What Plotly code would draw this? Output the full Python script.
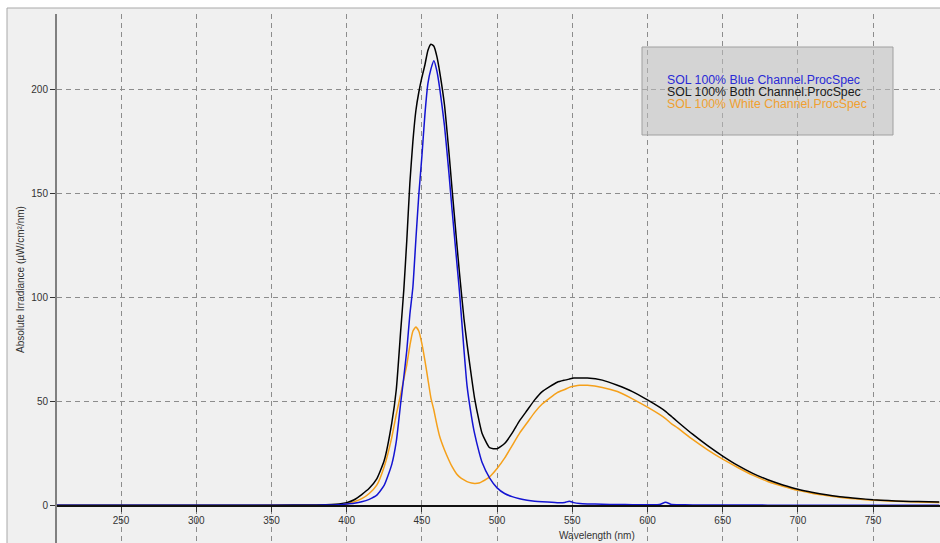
import plotly.graph_objects as go

# Wavelength grid (nm) shared by the three spectra
wavelength = [207, 250, 300, 350, 380, 390, 395, 400, 405, 410, 415, 420, 425, 430,
              433, 436, 438, 440, 442, 444, 446, 448, 450, 452, 454, 456, 458, 460,
              462, 465, 468, 470, 473, 475, 478, 480, 483, 485, 488, 490, 495, 500,
              505, 510, 515, 520, 525, 530, 540, 545, 548, 551, 555, 560, 570, 580,
              590, 600, 608, 612, 616, 620, 630, 640, 650, 660, 670, 680, 690, 700,
              710, 720, 730, 740, 750, 760, 770, 780, 794]

# Absolute irradiance (uW/cm^2/nm)
both_channel = [0.3, 0.3, 0.3, 0.4, 0.5, 0.7, 1.0, 1.6, 3.0, 5.5, 8.5, 13, 22, 40,
                56, 85, 104, 128, 155, 175, 190, 199, 206, 212, 219, 222, 221, 216,
                208, 193, 170, 153, 128, 112, 90, 78, 62, 52, 41, 35, 28, 27.5,
                30, 35, 41, 46, 51, 55, 59.5, 60.5, 61, 61.5, 61.5, 61.5, 60.5, 58,
                55, 51, 47.5, 45.5, 43, 40.5, 34.5, 29, 24, 19.5, 15.7, 12.6, 10.1, 8.0,
                6.5, 5.3, 4.3, 3.6, 3.0, 2.6, 2.3, 2.1, 1.9]

blue_channel = [0.3, 0.3, 0.4, 0.4, 0.4, 0.5, 0.6, 0.9, 1.3, 2.0, 3.2, 5.2, 10, 20,
                31, 50, 62, 75, 92, 105, 128, 150, 168, 188, 203, 210, 214, 209,
                200, 183, 160, 143, 119, 103, 75, 58, 43, 35, 26, 21, 13.5, 8.7,
                6.0, 4.5, 3.5, 2.8, 2.3, 2.0, 1.6, 1.7, 2.3, 1.6, 1.2, 1.0, 0.8, 0.7,
                0.6, 0.6, 0.7, 1.8, 0.7, 0.6, 0.5, 0.5, 0.5, 0.5, 0.5, 0.4, 0.4, 0.4,
                0.4, 0.4, 0.4, 0.4, 0.4, 0.4, 0.4, 0.4, 0.4]

white_channel = [0.2, 0.2, 0.2, 0.3, 0.3, 0.4, 0.6, 1.0, 2.0, 3.5, 6.0, 10, 19, 33,
                 44, 54, 61, 68, 77, 84, 86, 84, 78, 70, 61, 52, 46, 39,
                 33, 27, 22, 19, 15.5, 14, 12.5, 11.7, 11.0, 10.8, 11.0, 11.7, 14, 18,
                 23, 29, 35, 40, 45, 49, 54.5, 56, 57, 57.5, 58, 58, 57, 55,
                 51.5, 47.5, 44, 42, 39.5, 37.5, 32, 27, 22.5, 18.5, 14.8, 11.8, 9.5, 7.5,
                 6.0, 4.9, 4.0, 3.3, 2.8, 2.4, 2.1, 1.9, 1.7]

series_names = ["SOL 100% Blue Channel.ProcSpec",
                "SOL 100% Both Channel.ProcSpec",
                "SOL 100% White Channel.ProcSpec"]
x_ticks = [250, 300, 350, 400, 450, 500, 550, 600, 650, 700, 750]
y_ticks = [0, 50, 100, 150, 200]

W, H = 940, 543
L, T, R, B = 57, 14, 0, 0
PW, PH = W - L - R, H - T - B


def px(x):
    return (x - L) / PW


def py(y):
    return (H - B - y) / PH


fig = go.Figure()
line_style = dict(width=1.5, shape="spline", smoothing=0.5)
fig.add_trace(go.Scatter(x=wavelength, y=white_channel, mode="lines",
                         line=dict(color="#f5a01a", **line_style), name=series_names[2]))
fig.add_trace(go.Scatter(x=wavelength, y=both_channel, mode="lines",
                         line=dict(color="#000000", **line_style), name=series_names[1]))
fig.add_trace(go.Scatter(x=wavelength, y=blue_channel, mode="lines",
                         line=dict(color="#1414d2", **line_style), name=series_names[0]))

grid = dict(showgrid=True, gridcolor="#8c8c8c", gridwidth=1, griddash="5px,4px")
font_main = "Liberation Sans, Arial, sans-serif"

legend_rows = [(series_names[0], 80, "#2a2ad6"),
               (series_names[1], 92, "#1a1a1a"),
               (series_names[2], 104, "#f0a030")]

annotations = [
    dict(text=name, xref="paper", yref="paper", x=px(666), y=py(yy),
         xanchor="left", yanchor="middle", showarrow=False, borderpad=0,
         font=dict(family=font_main, size=12.3, color=col))
    for name, yy, col in legend_rows
]
annotations += [
    dict(text="Wavelength (nm)", xref="paper", yref="paper", x=px(597), y=py(535),
         xanchor="center", yanchor="middle", showarrow=False,
         font=dict(family=font_main, size=10, color="#333333")),
    dict(text="Absolute Irradiance (µW/cm²/nm)", xref="paper", yref="paper",
         x=px(20), y=py(280), textangle=-90, xanchor="center", yanchor="middle",
         showarrow=False, font=dict(family=font_main, size=10, color="#333333")),
]

fig.update_layout(
    width=W, height=H,
    margin=dict(l=L, t=T, r=R, b=B),
    paper_bgcolor="#ffffff",
    plot_bgcolor="rgba(0,0,0,0)",
    showlegend=False,
    font=dict(family=font_main, size=10, color="#333333"),
    xaxis=dict(range=[207.4, 794.5], tickvals=x_ticks, anchor="free",
               position=py(506), showline=True, linecolor="#111111", linewidth=1.5,
               ticks="outside", ticklen=5, tickcolor="#333333", zeroline=False,
               tickfont=dict(size=10, color="#333333"), **grid),
    yaxis=dict(range=[-17.8, 236.5], tickvals=y_ticks, showline=True,
               linecolor="#808080", linewidth=2, ticks="outside", ticklen=5,
               tickcolor="#333333", zeroline=False,
               tickfont=dict(size=10, color="#333333"), **grid),
    shapes=[
        # panel background and frame
        dict(type="rect", xref="paper", yref="paper", layer="below",
             x0=px(7), x1=px(942), y0=py(546), y1=py(8),
             fillcolor="#f0f0f0", line=dict(color="#a8a8a8", width=1)),
        # legend box
        dict(type="rect", xref="paper", yref="paper", layer="above",
             x0=px(642), x1=px(893), y0=py(135), y1=py(47),
             fillcolor="rgba(190,190,190,0.55)", line=dict(color="#a0a0a0", width=1)),
    ],
    annotations=annotations,
)

fig.write_html("out.html")
